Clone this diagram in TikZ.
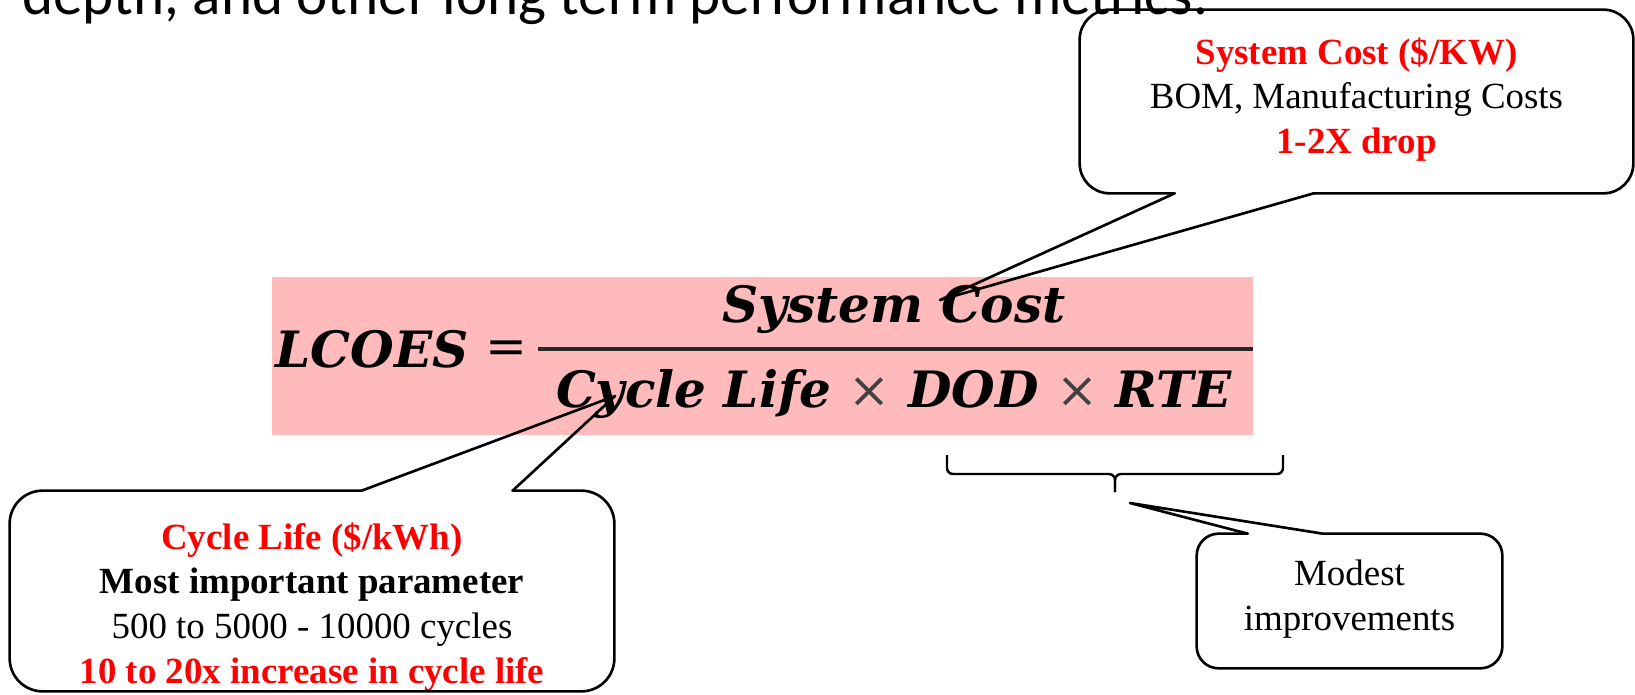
\documentclass[tikz,border=0pt]{standalone}
\usepackage{fontspec}
\setmainfont{Liberation Serif}
\newfontfamily\slidefont{Carlito}
\newfontfamily\eqfont{DejaVu Serif}
\usepackage{xcolor}
\usepackage{tikz}
\usetikzlibrary{calc, positioning}
\definecolor{eqpink}{RGB}{255,187,187}
\tikzset{
    calloutbox/.style={rectangle, inner sep=0pt},
    calloutline/.style={draw=black, line width=1.5pt, line join=round, line cap=round},
    calltext/.style={align=center, inner sep=0pt, font=\fontsize{21}{25.4}\selectfont},
    eqtext/.style={inner sep=0pt, font=\eqfont\bfseries\itshape\fontsize{28.5}{34}\selectfont},
    fracbar/.style={line width=2pt, black!85},
    bracepath/.style={line width=1.4pt, rounded corners=0.12cm},
}

\begin{document}
\begin{tikzpicture}
    \useasboundingbox (0,0) rectangle (32.7,-13.88);
    \clip (0,0) rectangle (32.7,-13.88);
    \node[anchor=base west, inner sep=0pt, font=\slidefont\fontsize{33.7}{40}\selectfont] (intro) at (0.44,-0.28) {depth, and other long term performance metrics.};

    \node[fill=eqpink, minimum width=19.62cm, minimum height=3.16cm, inner sep=0pt] (eqbg) at (15.25,-7.12) {};
    \node[eqtext, anchor=base west] (lcoes) at (5.5,-7.34) {LCOES {\mdseries\upshape\raisebox{0.08cm}{=}}};
    \node[eqtext, anchor=base] (num) at (17.88,-6.44) {System Cost};
    \node[eqtext, anchor=base] (den) at (17.88,-8.14) {Cycle Life {\mdseries\upshape\color{black!75}×} DOD {\mdseries\upshape\color{black!75}×} RTE};
    \coordinate (barl) at (10.76,-6.98);
    \coordinate (barr) at (25.06,-6.98);
    \draw[fracbar] (barl) -- (barr);

    \node[calloutbox, minimum width=11.06cm, minimum height=3.66cm] (costbox) at (27.13,-2.03) {};
    \node[calltext, below=0.55cm of costbox.north] (costtxt) {\textcolor{red}{\textbf{System Cost (\$/KW)}}\\BOM, Manufacturing Costs\\\textcolor{red}{\textbf{1-2X drop}}};
    \coordinate (costtip) at (18.8,-6.0);
    \coordinate (costb1) at ([xshift=1.9cm]costbox.south west);
    \coordinate (costb2) at ([xshift=4.68cm]costbox.south west);
    \draw[calloutline, rounded corners=0.6cm] (costb2) -- (costbox.south east) -- (costbox.north east) -- (costbox.north west) -- (costbox.south west) -- (costb1);
    \draw[calloutline] (costb1) -- (costtip) -- (costb2);

    \node[calloutbox, minimum width=12.08cm, minimum height=4cm] (cycbox) at (6.24,-11.82) {};
    \node[calltext, below=0.63cm of cycbox.north] (cyctxt) {\textcolor{red}{\textbf{Cycle Life (\$/kWh)}}\\\textbf{Most important parameter}\\500 to 5000 - 10000 cycles\\\textcolor{red}{\textbf{10 to 20x increase in cycle life}}};
    \coordinate (cyctip) at (12.3,-7.92);
    \coordinate (cycb1) at ([xshift=7.04cm]cycbox.north west);
    \coordinate (cycb2) at ([xshift=10.06cm]cycbox.north west);
    \draw[calloutline, rounded corners=0.66cm] (cycb2) -- (cycbox.north east) -- (cycbox.south east) -- (cycbox.south west) -- (cycbox.north west) -- (cycb1);
    \draw[calloutline] (cycb1) -- (cyctip) -- (cycb2);

    \node[calloutbox, minimum width=6.1cm, minimum height=2.68cm] (modbox) at (26.99,-12.02) {};
    \node[calltext, below=0.52cm of modbox.north] (modtxt) {Modest\\improvements};
    \coordinate (modtip) at (22.6,-10.06);
    \coordinate (modb1) at ([xshift=1.02cm]modbox.north west);
    \coordinate (modb2) at ([xshift=2.52cm]modbox.north west);
    \draw[calloutline, rounded corners=0.44cm] (modb2) -- (modbox.north east) -- (modbox.south east) -- (modbox.south west) -- (modbox.north west) -- (modb1);
    \draw[calloutline] (modb1) -- (modtip) -- (modb2);

    \coordinate (bracel) at (18.94,-9.1);
    \coordinate (bracer) at (25.66,-9.1);
    \coordinate (bracemid) at (22.3,-9.48);
    \coordinate (bracetip) at (22.3,-9.84);
    \draw[bracepath] (bracel) -- (bracel |- bracemid) -- (bracemid) -- (bracetip);
    \draw[bracepath] (bracer) -- (bracer |- bracemid) -- (bracemid) -- (bracetip);
\end{tikzpicture}
\end{document}
